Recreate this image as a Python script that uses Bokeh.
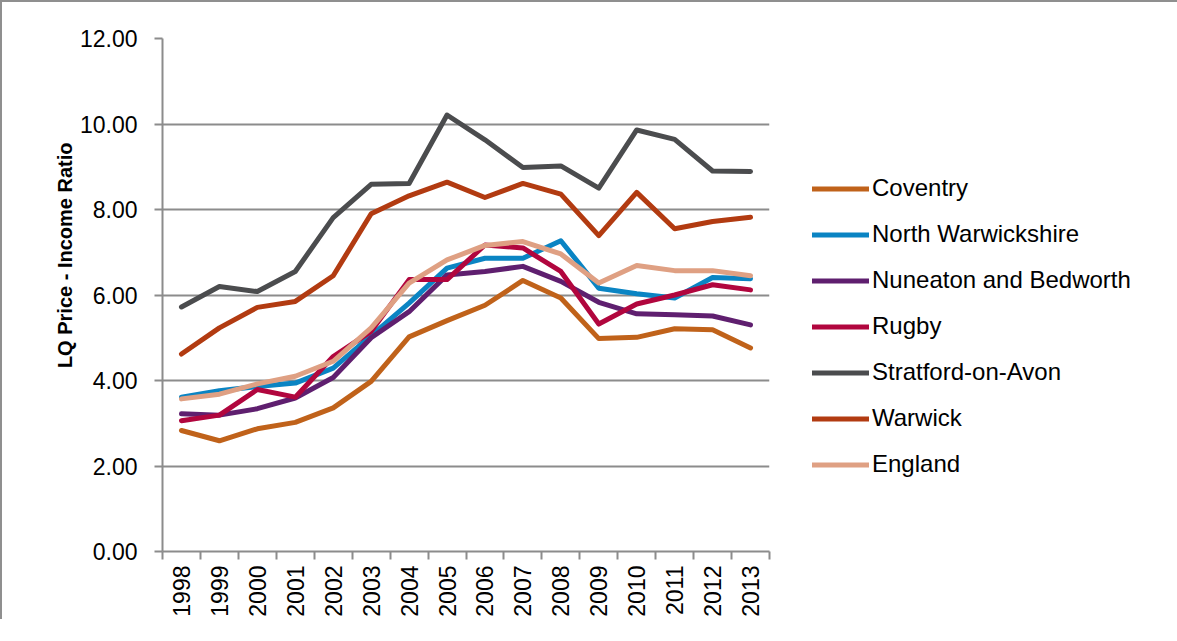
import math
from bokeh.plotting import figure
from bokeh.models import (Range1d, FixedTicker, NumeralTickFormatter, Legend, LegendItem,
                          Title, ColumnDataSource)
from bokeh.embed import file_html
from bokeh.resources import INLINE

years = ["1998", "1999", "2000", "2001", "2002", "2003", "2004", "2005",
         "2006", "2007", "2008", "2009", "2010", "2011", "2012", "2013"]

coventry = [2.83, 2.59, 2.87, 3.02, 3.36, 3.98, 5.02, 5.40, 5.76, 6.34, 5.93, 4.98, 5.01, 5.21, 5.19, 4.76]
north_warwickshire = [3.61, 3.76, 3.86, 3.94, 4.29, 5.05, 5.81, 6.63, 6.86, 6.86, 7.27, 6.16, 6.03, 5.93, 6.41, 6.38]
nuneaton = [3.22, 3.19, 3.34, 3.59, 4.07, 5.00, 5.61, 6.47, 6.55, 6.67, 6.32, 5.83, 5.56, 5.54, 5.51, 5.30]
rugby = [3.06, 3.19, 3.79, 3.61, 4.56, 5.15, 6.36, 6.36, 7.17, 7.10, 6.55, 5.32, 5.79, 6.00, 6.24, 6.12]
stratford = [5.72, 6.20, 6.08, 6.55, 7.81, 8.59, 8.61, 10.21, 9.63, 8.98, 9.02, 8.50, 9.86, 9.64, 8.90, 8.89]
warwick = [4.62, 5.23, 5.71, 5.85, 6.45, 7.90, 8.32, 8.64, 8.28, 8.61, 8.36, 7.39, 8.40, 7.55, 7.72, 7.82]
england = [3.57, 3.68, 3.92, 4.10, 4.45, 5.23, 6.28, 6.82, 7.16, 7.25, 6.96, 6.28, 6.69, 6.57, 6.57, 6.45]

series_names = ["Coventry", "North Warwickshire", "Nuneaton and Bedworth", "Rugby",
                "Stratford-on-Avon", "Warwick", "England"]
series_values = [coventry, north_warwickshire, nuneaton, rugby, stratford, warwick, england]
series_colors = ["#C0621A", "#0A84C3", "#5F1F6F", "#B1063E", "#4B4C4E", "#B23B11", "#DFA083"]

y_ticks = [0, 2, 4, 6, 8, 10, 12]

FONT = "Liberation Sans"
GRID = "#8c8c8c"

p = figure(frame_width=607, frame_height=513, output_backend="svg", toolbar_location=None,
           x_range=Range1d(0, len(years)), y_range=Range1d(0, 12),
           min_border_left=160, min_border_right=20, min_border_top=36, min_border_bottom=0)
p.styles = {"border-top": "2px solid #8f8f8f", "border-left": "2px solid #8f8f8f"}
p.outline_line_color = None
p.background_fill_color = "white"
p.border_fill_color = "white"

# positions at category centres, derived from the year index
xs = [i + 0.5 for i in range(len(years))]

renderers = []
for name, vals, col in zip(series_names, series_values, series_colors):
    src = ColumnDataSource(dict(x=xs, y=vals))
    r = p.line("x", "y", source=src, line_color=col, line_width=5,
               line_cap="round", line_join="round")
    renderers.append((name, r))

# x axis: labels at centres, ticks at category boundaries
p.xaxis.ticker = FixedTicker(ticks=xs, minor_ticks=list(range(len(years) + 1)))
p.xaxis.major_label_overrides = {x: y for x, y in zip(xs, years)}
p.xaxis.major_label_orientation = math.pi / 2
p.xaxis.major_tick_line_color = None
p.xaxis.minor_tick_line_color = GRID
p.xaxis.minor_tick_line_width = 2
p.xaxis.minor_tick_out = 8
p.xaxis.minor_tick_in = 0
p.xaxis.axis_line_color = GRID
p.xaxis.axis_line_width = 2
p.xaxis.major_label_text_font = FONT
p.xaxis.major_label_text_font_size = "23px"
p.xaxis.major_label_text_color = "black"
p.xaxis.major_label_standoff = 6

# y axis
p.yaxis.ticker = FixedTicker(ticks=y_ticks, minor_ticks=[])
p.yaxis.formatter = NumeralTickFormatter(format="0.00")
p.yaxis.axis_line_color = GRID
p.yaxis.axis_line_width = 2
p.yaxis.major_tick_line_color = GRID
p.yaxis.major_tick_line_width = 2
p.yaxis.major_tick_out = 8
p.yaxis.major_tick_in = 0
p.yaxis.major_label_text_font = FONT
p.yaxis.major_label_text_font_size = "23px"
p.yaxis.major_label_text_color = "black"
p.yaxis.major_label_standoff = 17

p.xgrid.visible = False
p.ygrid.ticker = FixedTicker(ticks=y_ticks)
p.ygrid.grid_line_color = GRID
p.ygrid.grid_line_width = 2

ytitle = Title(text="LQ Price - Income Ratio", align="right", offset=104,
               vertical_align="middle", standoff=0,
               text_font=FONT, text_font_size="20px", text_font_style="bold",
               text_color="black")
p.add_layout(ytitle, "left")

legend = Legend(items=[LegendItem(label=n, renderers=[r]) for n, r in renderers],
                location=(43, 73), orientation="vertical",
                glyph_width=57, glyph_height=27, label_height=27, spacing=18,
                label_standoff=3, padding=0, margin=0,
                label_text_font=FONT, label_text_font_size="24px",
                label_text_color="black",
                border_line_color=None, background_fill_alpha=0)
p.add_layout(legend, "right")

open("out.html", "w").write(file_html(p, INLINE))
